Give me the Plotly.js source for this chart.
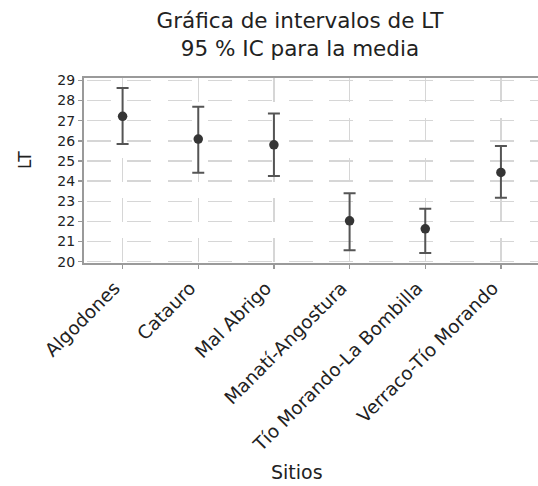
<!DOCTYPE html>
<html>
<head>
<meta charset="utf-8">
<script src="https://cdn.plot.ly/plotly-3.0.1.min.js"></script>
<style>html,body{margin:0;padding:0;background:#fff;}#chart{width:538px;height:486px;}</style>
</head>
<body>
<div id="chart"></div>
<script>
const sites = ["Algodones", "Catauro", "Mal Abrigo", "Manatí-Angostura", "Tío Morando-La Bombilla", "Verraco-Tío Morando"];
const means = [27.22, 26.09, 25.80, 22.03, 21.63, 24.43];
const upper = [28.62, 27.69, 27.36, 23.40, 22.63, 25.75];
const lower = [25.84, 24.41, 24.25, 20.57, 20.43, 23.17];
const yTicks = [20, 21, 22, 23, 24, 25, 26, 27, 28, 29];

const errPlus = upper.map((u, i) => u - means[i]);
const errMinus = lower.map((l, i) => means[i] - l);

const font = "DejaVu Sans, sans-serif";

const trace = {
  type: "scatter",
  mode: "markers",
  x: sites,
  y: means,
  marker: {color: "#353535", size: 9.5, symbol: "circle"},
  error_y: {
    type: "data", symmetric: false,
    array: errPlus, arrayminus: errMinus,
    color: "#555555", thickness: 2, width: 6
  },
  hoverinfo: "x+y"
};

const layout = {
  width: 538, height: 486,
  margin: {l: 84, r: 0, t: 78, b: 223},
  paper_bgcolor: "#ffffff",
  plot_bgcolor: "#ffffff",
  font: {family: font, color: "#222222"},
  showlegend: false,
  title: {
    text: "Gráfica de intervalos de LT<br>95 % IC para la media",
    font: {family: font, size: 21.5, color: "#222222"},
    x: 300 / 538, xref: "container", xanchor: "center",
    y: 1 - 28 / 486, yref: "container", yanchor: "top"
  },
  xaxis: {
    type: "category",
    range: [-0.51, 5.49],
    tickangle: -45,
    tickfont: {family: font, size: 18.5, color: "#222222"},
    ticklabelshift: -8,
    ticklabelstandoff: 1,
    ticks: "outside", ticklen: 4, tickcolor: "#999999", tickwidth: 1.5,
    showline: true, linecolor: "#9a9a9a", linewidth: 2, mirror: true,
    showgrid: true, gridcolor: "#d6d6d6", gridwidth: 1.5, griddash: "24px,16px",
    zeroline: false
  },
  yaxis: {
    range: [19.935, 29.12],
    tickvals: yTicks,
    ticktext: yTicks.map(String),
    tickfont: {family: font, size: 14, color: "#222222"},
    ticks: "outside", ticklen: 4, tickcolor: "#999999", tickwidth: 1.5,
    showline: true, linecolor: "#9a9a9a", linewidth: 2,
    showgrid: true, gridcolor: "#d6d6d6", gridwidth: 1.5, griddash: "0px,3px,24px,13.3px",
    zeroline: false
  },
  annotations: [
    {text: "LT", xref: "paper", yref: "paper", x: (25 - 84) / 454, y: (263 - 160) / 185,
     xanchor: "center", yanchor: "middle", textangle: -90, showarrow: false,
     font: {family: font, size: 17, color: "#222222"}},
    {text: "Sitios", xref: "paper", yref: "paper", x: (297 - 84) / 454, y: (263 - 472) / 185,
     xanchor: "center", yanchor: "middle", showarrow: false,
     font: {family: font, size: 19, color: "#222222"}}
  ]
};

Plotly.newPlot("chart", [trace], layout, {displayModeBar: false, staticPlot: true});
</script>
</body>
</html>
